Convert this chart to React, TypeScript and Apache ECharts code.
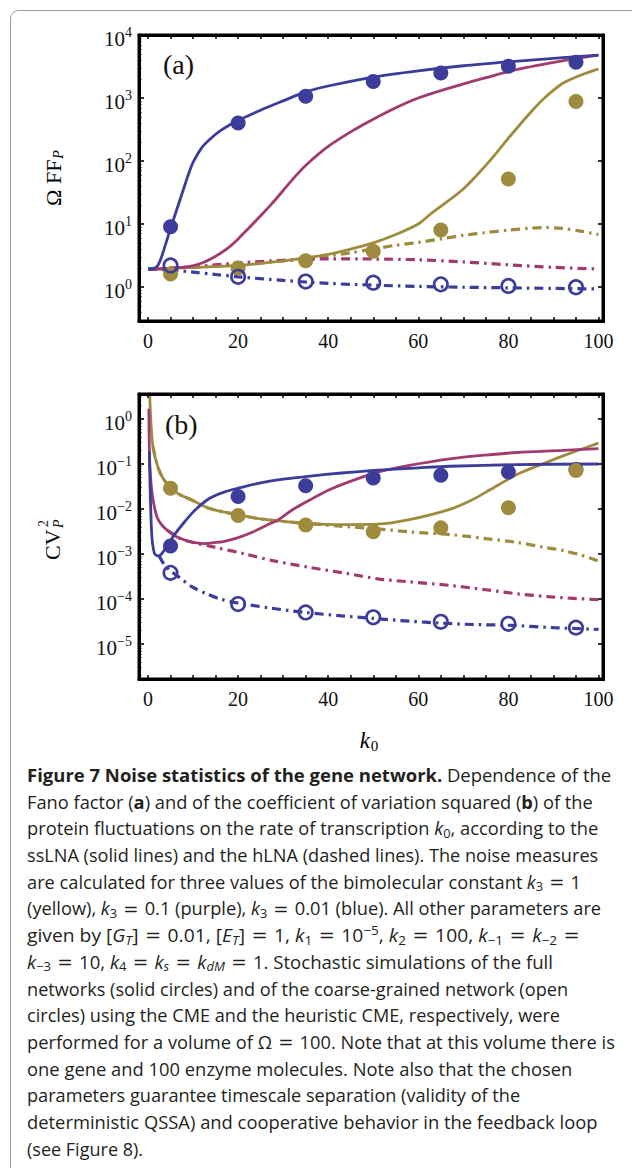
import React, { useEffect, useRef } from 'react';
import * as echarts from 'echarts';

const BLUE = '#3c3c9a';
const PURPLE = '#a13a70';
const OLIVE = '#9e8b3e';

// ---------- x tick values ----------
const xLabelValues = [0, 20, 40, 60, 80, 100];
const xTickValues = [0, 5, 10, 15, 20, 25, 30, 35, 40, 45, 50, 55, 60, 65, 70, 75, 80, 85, 90, 95, 100];

// ---------- simulation sample points ----------
const kPts = [5, 20, 35, 50, 65, 80, 95];

// ---------- panel (a): Omega FF_P ----------
const blueA_x = [0, 1, 2, 3, 4, 5, 6, 7, 8, 9, 10, 12, 14, 16, 18, 20, 25, 30, 35, 40, 50, 60, 70, 80, 90, 100];
const blueA_y = [1.9, 1.95, 2.1, 3.0, 5.0, 8.5, 14, 23, 38, 62, 95, 165, 230, 300, 370, 440, 640, 900, 1250, 1550, 2150, 2700, 3250, 3750, 4250, 4800];
const purpleA_x = [0, 5, 9, 12, 14, 16, 18, 20, 22.5, 25, 27.5, 30, 32.5, 35, 40, 45, 50, 55, 60, 67, 75, 82, 92, 100];
const purpleA_y = [1.9, 1.98, 2.1, 2.4, 2.8, 3.4, 4.3, 5.8, 8.8, 13.5, 21, 34, 55, 85, 170, 290, 460, 700, 1000, 1450, 2100, 2850, 3900, 4800];
const yellowA_x = [0, 10, 20, 30, 35, 40, 45, 50, 55, 60, 62.5, 65, 70, 73.5, 77, 80, 85, 88, 92, 96, 100];
const yellowA_y = [1.9, 2.05, 2.2, 2.6, 2.9, 3.3, 4.0, 5.0, 6.8, 10, 14, 19, 36, 65, 125, 230, 600, 1000, 1700, 2300, 2900];

const yellowAd_x = [0, 10, 20, 30, 40, 45, 50, 55, 60, 65, 70, 75, 80, 85, 88, 92, 96, 100];
const yellowAd_y = [1.9, 2.05, 2.25, 2.6, 3.1, 3.5, 4.0, 4.6, 5.1, 5.8, 6.6, 7.3, 8.0, 8.6, 8.8, 8.5, 7.7, 6.8];
const purpleAd_x = [0, 10, 20, 30, 40, 50, 60, 70, 80, 90, 100];
const purpleAd_y = [1.9, 2.1, 2.4, 2.65, 2.8, 2.78, 2.7, 2.5, 2.25, 2.05, 1.93];
const blueAd_x = [0, 5, 10, 15, 20, 30, 40, 50, 60, 70, 80, 90, 100];
const blueAd_y = [1.95, 1.85, 1.72, 1.58, 1.45, 1.27, 1.14, 1.07, 1.02, 0.99, 0.97, 0.95, 0.93];

const blueFullA = [9, 400, 1070, 1830, 2500, 3200, 3700];
const yellowFullA = [1.6, 2.0, 2.6, 3.7, 8.0, 52, 880];
const blueOpenA = [2.2, 1.45, 1.22, 1.17, 1.1, 1.04, 0.99];

// ---------- panel (b): CV_P^2 ----------
const blueB_x = [0.3, 0.8, 1.4, 2.2, 3, 4, 5, 6, 8, 10, 12, 14, 17, 20, 25, 30, 36, 43, 51, 60, 67, 82, 100];
const blueB_y = [0.19, 0.003, 0.00105, 0.0009, 0.001, 0.0014, 0.002, 0.0028, 0.005, 0.0085, 0.013, 0.018, 0.024, 0.029, 0.038, 0.046, 0.054, 0.063, 0.073, 0.082, 0.089, 0.097, 0.1];
const purpleB_x = [0.2, 0.4, 1, 2, 3, 4.2, 5.5, 7.2, 10, 12.4, 15, 17, 20, 23, 26, 29, 32, 36, 40, 44, 51, 58, 67, 75, 82, 92, 100];
const purpleB_y = [1.7, 0.1, 0.019, 0.0066, 0.0045, 0.0034, 0.0027, 0.0022, 0.0018, 0.0017, 0.0018, 0.0019, 0.0023, 0.003, 0.0042, 0.0058, 0.0095, 0.016, 0.026, 0.038, 0.066, 0.093, 0.13, 0.158, 0.18, 0.2, 0.22];
const yellowB_x = [0.3, 0.6, 1.1, 2.2, 3.5, 5.3, 7, 9.6, 13.3, 17, 20, 25, 31.8, 36, 42, 51, 58, 67, 72, 76, 82, 87, 92, 96, 100];
const yellowB_y = [6, 1.0, 0.24, 0.085, 0.045, 0.029, 0.021, 0.016, 0.0105, 0.0085, 0.0074, 0.006, 0.0051, 0.0047, 0.0045, 0.0046, 0.0058, 0.0098, 0.016, 0.027, 0.059, 0.095, 0.15, 0.21, 0.29];

const yellowBd_x = [1.1, 2.2, 3.5, 5.3, 7, 9.6, 13.3, 17, 20, 25, 31.8, 36, 42, 51, 58, 67, 75, 82, 88, 92, 96, 100];
const yellowBd_y = [0.24, 0.085, 0.045, 0.029, 0.021, 0.016, 0.0105, 0.0085, 0.0074, 0.006, 0.0051, 0.0047, 0.0042, 0.0036, 0.0031, 0.0027, 0.0022, 0.0018, 0.0014, 0.0012, 0.00095, 0.0007];
const purpleBd_x = [4.2, 7.2, 10, 15, 21.5, 28, 36, 44, 51, 58, 67, 75, 82, 90, 100];
const purpleBd_y = [0.0034, 0.0022, 0.0018, 0.0014, 0.001, 0.0007, 0.0005, 0.00037, 0.00028, 0.00024, 0.0002, 0.00016, 0.00013, 0.00011, 0.000096];
const blueBd_x = [2.5, 3.5, 5, 7, 9.6, 13, 16, 20, 27, 35, 43, 50, 58, 65, 72, 80, 90, 100];
const blueBd_y = [0.0009, 0.0006, 0.00042, 0.0003, 0.00019, 0.00013, 0.0001, 8.1e-5, 6.3e-5, 5.0e-5, 4.2e-5, 3.7e-5, 3.2e-5, 2.9e-5, 2.7e-5, 2.6e-5, 2.3e-5, 2.1e-5];

const blueFullB = [0.0015, 0.019, 0.033, 0.049, 0.056, 0.066, 0.075];
const yellowFullB = [0.029, 0.0072, 0.0044, 0.0031, 0.0038, 0.0107, 0.072];
const blueOpenB = [0.00038, 7.7e-5, 5.0e-5, 3.9e-5, 3.1e-5, 2.8e-5, 2.3e-5];

// ---------- texts ----------
const captionLines = [
  '{b|Figure 7 Noise statistics of the gene network.} Dependence of the',
  'Fano factor ({b|a}) and of the coefficient of variation squared ({b|b}) of the',
  'protein fluctuations on the rate of transcription {i|k}{sub|0}, according to the',
  'ssLNA (solid lines) and the hLNA (dashed lines). The noise measures',
  'are calculated for three values of the bimolecular constant {i|k}{sub|3}{eq|=}1',
  '(yellow), {i|k}{sub|3}{eq|=}0.1 (purple), {i|k}{sub|3}{eq|=}0.01 (blue). All other parameters are',
  'given by [{i|G}{subi|T}]{eq|=}0.01, [{i|E}{subi|T}]{eq|=}1, {i|k}{sub|1}{eq|=}10{sup|−5}, {i|k}{sub|2}{eq|=}100, {i|k}{sub|−1}{eq|=}{i|k}{sub|−2}{eq|=}',
  '{i|k}{sub|−3}{eq|=}10, {i|k}{sub|4}{eq|=}{i|k}{subi|s}{eq|=}{i|k}{subi|dM}{eq|=}1. Stochastic simulations of the full',
  'networks (solid circles) and of the coarse-grained network (open',
  'circles) using the CME and the heuristic CME, respectively, were',
  'performed for a volume of Ω{eq|=}100. Note that at this volume there is',
  'one gene and 100 enzyme molecules. Note also that the chosen',
  'parameters guarantee timescale separation (validity of the',
  'deterministic QSSA) and cooperative behavior in the feedback loop',
  '(see Figure 8).',
];
// right end of every caption line in the reference page
const captionRightEdges = [611, 593, 598, 598, 581, 601, 586, 553, 568, 560, 615, 572, 520, 597, 143];

const SERIF = 'Liberation Serif';
const SANS = 'Open Sans';

const Y_MIN_A = Math.pow(10, -0.54);
const Y_MAX_A = 10000;
const Y_MIN_B = Math.pow(10, -5.78);
const Y_MAX_B = Math.pow(10, 0.556);

const GRID_A = { left: 139, top: 35, width: 464, height: 286 };
const GRID_B = { left: 139, top: 394, width: 464, height: 285 };

function pairs(xs: number[], ys: number[]) {
  return xs.map((x, i) => [x, ys[i]]);
}

function minorTicks(lo: number, hi: number) {
  const out: number[] = [];
  for (let d = Math.floor(lo) - 1; d <= Math.ceil(hi); d++) {
    for (let m = 2; m <= 9; m++) {
      const v = d + Math.log10(m);
      if (v > lo && v < hi) out.push(v);
    }
  }
  return out;
}

function powLabel(v: number) {
  const e = Math.log10(v);
  const r = Math.round(e);
  if (Math.abs(e - r) > 0.02) return '';
  const s = r < 0 ? '−' + String(-r) : String(r);
  return '{b|10}{s|' + s + '}';
}

const yRich = {
  b: { fontFamily: SERIF, fontSize: 21, color: '#111', lineHeight: 28, padding: [8, 0, 0, 0] },
  s: { fontFamily: SERIF, fontSize: 14, color: '#111', lineHeight: 28, padding: [0, 0, 5, 0] },
};

function frame() {
  return { show: true, onZero: false, lineStyle: { color: '#000', width: 3 } };
}

function xAxes(grid: number) {
  return [
    {
      type: 'value', gridIndex: grid, position: 'bottom', min: -2, max: 101, z: 10,
      axisLine: frame(),
      axisTick: { show: true, inside: true, length: 4, customValues: xTickValues, lineStyle: { color: '#000', width: 1.5 } },
      axisLabel: { customValues: xLabelValues, margin: 10, fontFamily: SERIF, fontSize: 20, color: '#111' },
      splitLine: { show: false },
    },
    {
      type: 'value', gridIndex: grid, position: 'top', min: -2, max: 101, z: 10,
      axisLine: frame(),
      axisTick: { show: true, inside: true, length: 4, customValues: xTickValues, lineStyle: { color: '#000', width: 1.5 } },
      axisLabel: { show: false },
      splitLine: { show: false },
    },
  ];
}

function yAxes(grid: number, min: number, max: number) {
  return [
    {
      type: 'log', logBase: 10, gridIndex: grid, position: 'left', min, max, z: 10,
      axisLine: frame(),
      axisTick: { show: true, inside: true, length: 5, lineStyle: { color: '#000', width: 1.6 } },
      axisLabel: { formatter: powLabel, rich: yRich, margin: 7, color: '#111' },
      splitLine: { show: false },
    },
    {
      type: 'log', logBase: 10, gridIndex: grid, position: 'right', min, max, z: 10,
      axisLine: frame(),
      axisTick: { show: true, inside: true, length: 5, lineStyle: { color: '#000', width: 1.6 } },
      axisLabel: { show: false },
      splitLine: { show: false },
    },
    {
      type: 'value', gridIndex: grid, position: 'left', z: 10,
      min: Math.log10(min), max: Math.log10(max),
      axisLine: { show: false, onZero: false },
      axisTick: { show: true, inside: true, length: 2.5, customValues: minorTicks(Math.log10(min), Math.log10(max)), lineStyle: { color: '#000', width: 1 } },
      axisLabel: { show: false },
      splitLine: { show: false },
    },
  ];
}

function lineSeries(xi: number, yi: number, xs: number[], ys: number[], color: string, dashed: boolean) {
  return {
    type: 'line', xAxisIndex: xi, yAxisIndex: yi,
    data: pairs(xs, ys),
    showSymbol: false, symbol: 'none',
    smooth: 0.3,
    lineStyle: { color, width: dashed ? 3.2 : 2.8, type: dashed ? [9, 5, 2.5, 5] : 'solid' },
    z: dashed ? 2 : 3,
    silent: true,
  };
}

function dotSeries(xi: number, yi: number, ys: number[], color: string) {
  return {
    type: 'scatter', xAxisIndex: xi, yAxisIndex: yi,
    data: pairs(kPts, ys), symbol: 'circle', symbolSize: 15,
    itemStyle: { color, opacity: 1 }, z: 4, silent: true,
  };
}

function ringSeries(xi: number, yi: number, ys: number[], color: string) {
  return {
    type: 'scatter', xAxisIndex: xi, yAxisIndex: yi,
    data: pairs(kPts, ys), symbol: 'circle', symbolSize: 13.5,
    itemStyle: { color: 'rgba(255,255,255,0)', borderColor: color, borderWidth: 2.6, opacity: 1 }, z: 5, silent: true,
  };
}

const CAP_FS = 17.8;
const SUB_FS = 12.5;
const CAP_COLOR = '#231f20';
const captionRich = {
  b: { fontFamily: SANS, fontSize: CAP_FS, fontWeight: 'bold', color: CAP_COLOR, lineHeight: 26 },
  i: { fontFamily: SANS, fontSize: CAP_FS, fontStyle: 'italic', color: CAP_COLOR, lineHeight: 26 },
  eq: { fontFamily: 'DejaVu Sans', fontSize: CAP_FS, color: CAP_COLOR, lineHeight: 26, padding: [0, 6, 0, 6] },
  sub: { fontFamily: SANS, fontSize: SUB_FS, color: CAP_COLOR, lineHeight: 26, padding: [9, 0, 0, 0] },
  subi: { fontFamily: SANS, fontSize: SUB_FS, fontStyle: 'italic', color: CAP_COLOR, lineHeight: 26, padding: [9, 0, 0, 0] },
  sup: { fontFamily: SANS, fontSize: SUB_FS, color: CAP_COLOR, lineHeight: 26, padding: [0, 0, 9, 0] },
};

function captionStyle(ln: string) {
  return {
    text: ln, fontFamily: SANS, fontSize: CAP_FS, fill: CAP_COLOR, align: 'left', verticalAlign: 'middle',
    lineHeight: 26, rich: captionRich,
  };
}

function captionScales() {
  return captionLines.map((ln, i) => {
    try {
      const T: any = (echarts as any).graphic.Text;
      const w = new T({ style: captionStyle(ln) }).getBoundingRect().width;
      const s = (captionRightEdges[i] - 27) / w;
      if (!isFinite(s) || s <= 0) return 1.035;
      return Math.max(0.92, Math.min(1.14, s));
    } catch (e) {
      return 1.035;
    }
  });
}

function buildOption() {
  const scales = captionScales();
  const graphic: any[] = [
    {
      type: 'rect', silent: true, z: -5,
      shape: { x: 10.5, y: 10.5, width: 700, height: 1300, r: 8 },
      style: { fill: 'transparent', stroke: '#9a9a9a', lineWidth: 1 },
    },
    {
      type: 'rect', silent: true, z: 50,
      shape: { x: GRID_A.left, y: GRID_A.top, width: GRID_A.width, height: GRID_A.height },
      style: { fill: 'transparent', stroke: '#000', lineWidth: 3 },
    },
    {
      type: 'rect', silent: true, z: 50,
      shape: { x: GRID_B.left, y: GRID_B.top, width: GRID_B.width, height: GRID_B.height },
      style: { fill: 'transparent', stroke: '#000', lineWidth: 3 },
    },
    { type: 'text', left: 163, top: 50, silent: true, style: { text: '(a)', fontFamily: SERIF, fontSize: 28, fill: '#111' } },
    { type: 'text', left: 165, top: 410, silent: true, style: { text: '(b)', fontFamily: SERIF, fontSize: 28, fill: '#111' } },
    {
      type: 'text', x: 53, y: 178, rotation: Math.PI / 2, silent: true,
      style: {
        text: '{n|Ω FF}{s|P}', align: 'center', verticalAlign: 'middle',
        rich: {
          n: { fontFamily: SERIF, fontSize: 22, color: '#111', lineHeight: 28 },
          s: { fontFamily: SERIF, fontSize: 14, fontStyle: 'italic', color: '#111', lineHeight: 28, padding: [10, 0, 0, 1] },
        },
      },
    },
    {
      type: 'group', x: 52, y: 537, rotation: Math.PI / 2, silent: true,
      children: [
        { type: 'text', x: -23, y: 0, style: { text: 'CV', fontFamily: SERIF, fontSize: 22, fill: '#111', align: 'left', verticalAlign: 'middle' } },
        { type: 'text', x: 9, y: 6, style: { text: 'P', fontFamily: SERIF, fontStyle: 'italic', fontSize: 14, fill: '#111', align: 'left', verticalAlign: 'middle' } },
        { type: 'text', x: 10, y: -9, style: { text: '2', fontFamily: SERIF, fontSize: 14, fill: '#111', align: 'left', verticalAlign: 'middle' } },
      ],
    },
    {
      type: 'text', x: 369, y: 740, silent: true,
      style: {
        text: '{k|k}{s|0}', align: 'center', verticalAlign: 'middle',
        rich: {
          k: { fontFamily: SERIF, fontSize: 23, fontStyle: 'italic', color: '#111', lineHeight: 30 },
          s: { fontFamily: SERIF, fontSize: 15, color: '#111', lineHeight: 30, padding: [11, 0, 0, 1] },
        },
      },
    },
  ];
  captionLines.forEach((ln, i) => {
    graphic.push({
      type: 'text', x: 27, y: 775 + i * 26.7, scaleX: scales[i], silent: true,
      style: captionStyle(ln),
    });
  });

  return {
    animation: false,
    grid: [
      { ...GRID_A },
      { ...GRID_B },
    ],
    xAxis: [...xAxes(0), ...xAxes(1)],
    yAxis: [...yAxes(0, Y_MIN_A, Y_MAX_A), ...yAxes(1, Y_MIN_B, Y_MAX_B)],
    series: [
      lineSeries(0, 0, yellowAd_x, yellowAd_y, OLIVE, true),
      lineSeries(0, 0, purpleAd_x, purpleAd_y, PURPLE, true),
      lineSeries(0, 0, blueAd_x, blueAd_y, BLUE, true),
      lineSeries(0, 0, yellowA_x, yellowA_y, OLIVE, false),
      lineSeries(0, 0, purpleA_x, purpleA_y, PURPLE, false),
      lineSeries(0, 0, blueA_x, blueA_y, BLUE, false),
      dotSeries(0, 0, yellowFullA, OLIVE),
      dotSeries(0, 0, blueFullA, BLUE),
      ringSeries(0, 0, blueOpenA, BLUE),

      lineSeries(2, 3, yellowBd_x, yellowBd_y, OLIVE, true),
      lineSeries(2, 3, purpleBd_x, purpleBd_y, PURPLE, true),
      lineSeries(2, 3, blueBd_x, blueBd_y, BLUE, true),
      lineSeries(2, 3, yellowB_x, yellowB_y, OLIVE, false),
      lineSeries(2, 3, purpleB_x, purpleB_y, PURPLE, false),
      lineSeries(2, 3, blueB_x, blueB_y, BLUE, false),
      dotSeries(2, 3, blueFullB, BLUE),
      dotSeries(2, 3, yellowFullB, OLIVE),
      ringSeries(2, 3, blueOpenB, BLUE),
    ],
    graphic,
  };
}

function frameBox(g: { left: number; top: number; width: number; height: number }) {
  return {
    position: 'absolute' as const,
    left: g.left - 1.5, top: g.top - 1.5, width: g.width + 3, height: g.height + 3,
    border: '3px solid #000', boxSizing: 'border-box' as const, pointerEvents: 'none' as const,
  };
}

export default function App() {
  const ref = useRef<HTMLDivElement>(null);
  useEffect(() => {
    if (!ref.current) return;
    const chart = echarts.init(ref.current, null, { renderer: 'svg' });
    chart.setOption(buildOption() as any);
    return () => chart.dispose();
  }, []);
  return (
    <div style={{ position: 'absolute', left: 0, top: 0, width: 632, height: 1168 }}>
      <div ref={ref} style={{ position: 'absolute', left: 0, top: 0, width: 632, height: 1168, background: '#fff' }} />
      <div style={frameBox(GRID_A)} />
      <div style={frameBox(GRID_B)} />
    </div>
  );
}
